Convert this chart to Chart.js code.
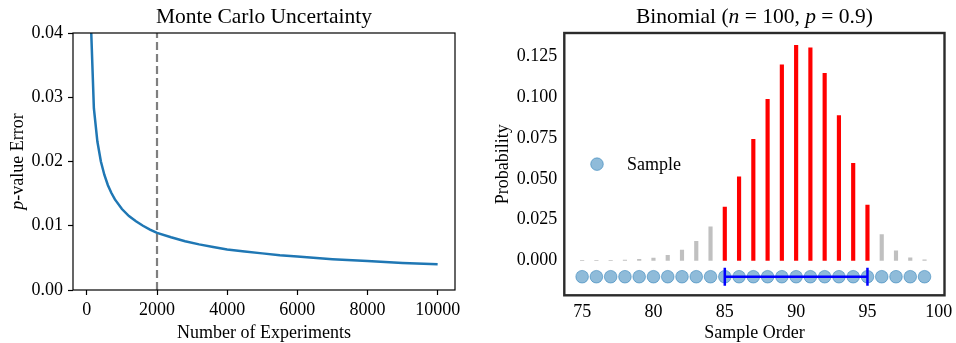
<!DOCTYPE html>
<html>
<head>
  <meta charset="UTF-8">
  <title>Monte Carlo Uncertainty / Binomial</title>
  <script src="https://cdn.jsdelivr.net/npm/chart.js"></script>
  <style>
    body { margin: 0; background: #fff; }
    #wrap { position: relative; width: 956px; height: 343px; }
    #left { position: absolute; left: 0; top: 0; }
    #right { position: absolute; left: 480px; top: 0; }
  </style>
</head>
<body>
  <div id="wrap">
    <canvas id="left" width="480" height="343"></canvas>
    <canvas id="right" width="476" height="343"></canvas>
  </div>

  <script>
    // left panel: p-value error vs number of experiments
    const nExp = [100, 200, 300, 400, 500, 600, 700, 800, 1000, 1200, 1400, 1600, 1800, 2000,
                  2400, 2800, 3200, 3600, 4000, 4500, 5000, 5500, 6000, 7000, 8000, 9000, 10000];
    const pErr = [0.044, 0.0283, 0.0231, 0.0200, 0.0179, 0.0163, 0.0151, 0.0141, 0.0126, 0.0115,
                  0.0107, 0.0100, 0.0094, 0.0089, 0.0082, 0.0076, 0.0071, 0.0067, 0.0063, 0.0060,
                  0.0057, 0.0054, 0.0052, 0.0048, 0.0045, 0.0042, 0.0040];
    const cutoffX = 2000;
    const cutoffY = [0, 0.04];
    const xTicksL = [0, 2000, 4000, 6000, 8000, 10000];
    const yTicksL = [0, 0.01, 0.02, 0.03, 0.04];

    // right panel: binomial pmf, samples, interval
    const orders = [75, 76, 77, 78, 79, 80, 81, 82, 83, 84, 85, 86, 87,
                    88, 89, 90, 91, 92, 93, 94, 95, 96, 97, 98, 99];
    const prob = [0.00001, 0.00003, 0.00009, 0.00024, 0.0006, 0.0014, 0.0031, 0.0063, 0.0117,
                  0.0206, 0.0327, 0.0513, 0.0743, 0.0988, 0.1199, 0.1319, 0.1304, 0.1148,
                  0.0889, 0.0596, 0.0339, 0.0159, 0.0059, 0.0016, 0.0003];
    const sampleY = -0.01;
    const interval = [85, 95];
    const xTicksR = [75, 80, 85, 90, 95, 100];
    const yTicksR = [0, 0.025, 0.05, 0.075, 0.1, 0.125];

    const FONT = '"Liberation Serif", "Times New Roman", serif';
    const BLUE = '#1f77b4';

    function rich(ctx, segs, x, y, size, align) {
      let w = 0;
      segs.forEach(s => {
        ctx.font = (s.i ? 'italic ' : '') + size + 'px ' + FONT;
        w += ctx.measureText(s.t).width;
      });
      let cx = align === 'left' ? x : x - w / 2;
      ctx.textAlign = 'left';
      ctx.textBaseline = 'alphabetic';
      segs.forEach(s => {
        ctx.font = (s.i ? 'italic ' : '') + size + 'px ' + FONT;
        ctx.fillText(s.t, cx, y);
        cx += ctx.measureText(s.t).width;
      });
    }

    function decor(cfg) {
      return {
        id: 'decor',
        afterDraw(chart) {
          const ctx = chart.ctx, a = chart.chartArea;
          const cx = (a.left + a.right) / 2, cy = (a.top + a.bottom) / 2;
          ctx.save();
          ctx.strokeStyle = cfg.frameColor;
          ctx.lineWidth = cfg.frameWidth;
          ctx.strokeRect(a.left, a.top, a.right - a.left, a.bottom - a.top);
          ctx.fillStyle = '#000';
          rich(ctx, cfg.title, cx, 23, 21.5);
          rich(ctx, cfg.xLabel, cx, 338, 18);
          if (cfg.legend) {
            const ly = cy;
            ctx.beginPath();
            ctx.arc(a.left + 32.7, ly, 6.3, 0, Math.PI * 2);
            ctx.fillStyle = 'rgba(31,119,180,0.5)';
            ctx.strokeStyle = 'rgba(31,119,180,0.5)';
            ctx.lineWidth = 1;
            ctx.fill();
            ctx.stroke();
            ctx.fillStyle = '#000';
            rich(ctx, [{t: cfg.legend}], a.left + 62.7, ly + 6, 18, 'left');
          }
          ctx.translate(cfg.yLabelX, cy);
          ctx.rotate(-Math.PI / 2);
          rich(ctx, cfg.yLabel, 0, 0, 18);
          ctx.restore();
        }
      };
    }

    const tickFont = {family: FONT, size: 18};

    new Chart(document.getElementById('left'), {
      type: 'line',
      data: {
        datasets: [
          {
            data: cutoffY.map(y => ({x: cutoffX, y: y})),
            borderColor: '#7f7f7f',
            borderDash: [8, 4],
            borderWidth: 2.2,
            pointRadius: 0
          },
          {
            data: nExp.map((n, i) => ({x: n, y: pErr[i]})),
            borderColor: BLUE,
            borderWidth: 2.5,
            pointRadius: 0,
            tension: 0
          }
        ]
      },
      options: {
        responsive: false,
        animation: false,
        events: [],
        layout: {padding: {left: 0, right: 25, top: 33, bottom: 0}},
        plugins: {legend: {display: false}, tooltip: {enabled: false}},
        scales: {
          x: {
            type: 'linear', min: -395, max: 10495,
            afterBuildTicks: s => { s.ticks = xTicksL.map(v => ({value: v})); },
            afterFit: s => { s.height = 53; s.paddingLeft = 0; s.paddingRight = 0; },
            grid: {drawOnChartArea: false, tickLength: 5, tickColor: '#000', tickWidth: 1.2},
            border: {display: false},
            ticks: {font: tickFont, color: '#000', padding: 4, maxRotation: 0, callback: v => String(v)}
          },
          y: {
            type: 'linear', min: 0, max: 0.04,
            afterBuildTicks: s => { s.ticks = yTicksL.map(v => ({value: v})); },
            afterFit: s => { s.width = 73; s.paddingTop = 0; s.paddingBottom = 0; },
            grid: {drawOnChartArea: false, tickLength: 5, tickColor: '#000', tickWidth: 1.2},
            border: {display: false},
            ticks: {font: tickFont, color: '#000', padding: 5, callback: v => v.toFixed(2)}
          }
        }
      },
      plugins: [decor({
        frameColor: '#000', frameWidth: 1.2,
        title: [{t: 'Monte Carlo Uncertainty'}],
        xLabel: [{t: 'Number of Experiments'}],
        yLabel: [{t: 'p', i: true}, {t: '-value Error'}],
        yLabelX: 23
      })]
    });

    new Chart(document.getElementById('right'), {
      type: 'bar',
      data: {
        datasets: [
          {
            type: 'line',
            data: interval.map(v => ({x: v, y: sampleY})),
            borderColor: '#0000ff',
            borderWidth: 2.5,
            pointStyle: 'line',
            rotation: 90,
            pointRadius: 9,
            pointBorderWidth: 2.5,
            pointBorderColor: '#0000ff',
            order: 0
          },
          {
            type: 'scatter',
            data: orders.map(k => ({x: k, y: sampleY})),
            backgroundColor: 'rgba(31,119,180,0.5)',
            borderColor: 'rgba(31,119,180,0.5)',
            borderWidth: 1,
            pointRadius: 6.3,
            order: 1
          },
          {
            type: 'bar',
            data: orders.map((k, i) => ({x: k, y: prob[i]})),
            backgroundColor: orders.map(k => (k >= interval[0] && k <= interval[1]) ? '#ff0000' : '#c0c0c0'),
            barThickness: 3.5,
            grouped: false,
            order: 2
          }
        ]
      },
      options: {
        responsive: false,
        animation: false,
        events: [],
        layout: {padding: {left: 0, right: 9.3, top: 33, bottom: 0}},
        plugins: {legend: {display: false}, tooltip: {enabled: false}},
        scales: {
          x: {
            type: 'linear', min: 73.75, max: 100.4, offset: false,
            afterBuildTicks: s => { s.ticks = xTicksR.map(v => ({value: v})); },
            afterFit: s => { s.height = 47.7; s.paddingLeft = 0; s.paddingRight = 0; },
            grid: {display: false, drawTicks: false, offset: false},
            border: {display: false},
            ticks: {font: tickFont, color: '#000', padding: 6, maxRotation: 0, callback: v => String(v)}
          },
          y: {
            type: 'linear', min: -0.0214, max: 0.1395,
            afterBuildTicks: s => { s.ticks = yTicksR.map(v => ({value: v})); },
            afterFit: s => { s.width = 84.3; s.paddingTop = 0; s.paddingBottom = 0; },
            grid: {display: false, drawTicks: false},
            border: {display: false},
            ticks: {font: tickFont, color: '#000', padding: 7, callback: v => v.toFixed(3)}
          }
        }
      },
      plugins: [decor({
        frameColor: '#2b2b2b', frameWidth: 2.4,
        title: [{t: 'Binomial ('}, {t: 'n', i: true}, {t: ' = 100, '}, {t: 'p', i: true}, {t: ' = 0.9)'}],
        xLabel: [{t: 'Sample Order'}],
        yLabel: [{t: 'Probability'}],
        yLabelX: 28,
        legend: 'Sample'
      })]
    });
  </script>
</body>
</html>
